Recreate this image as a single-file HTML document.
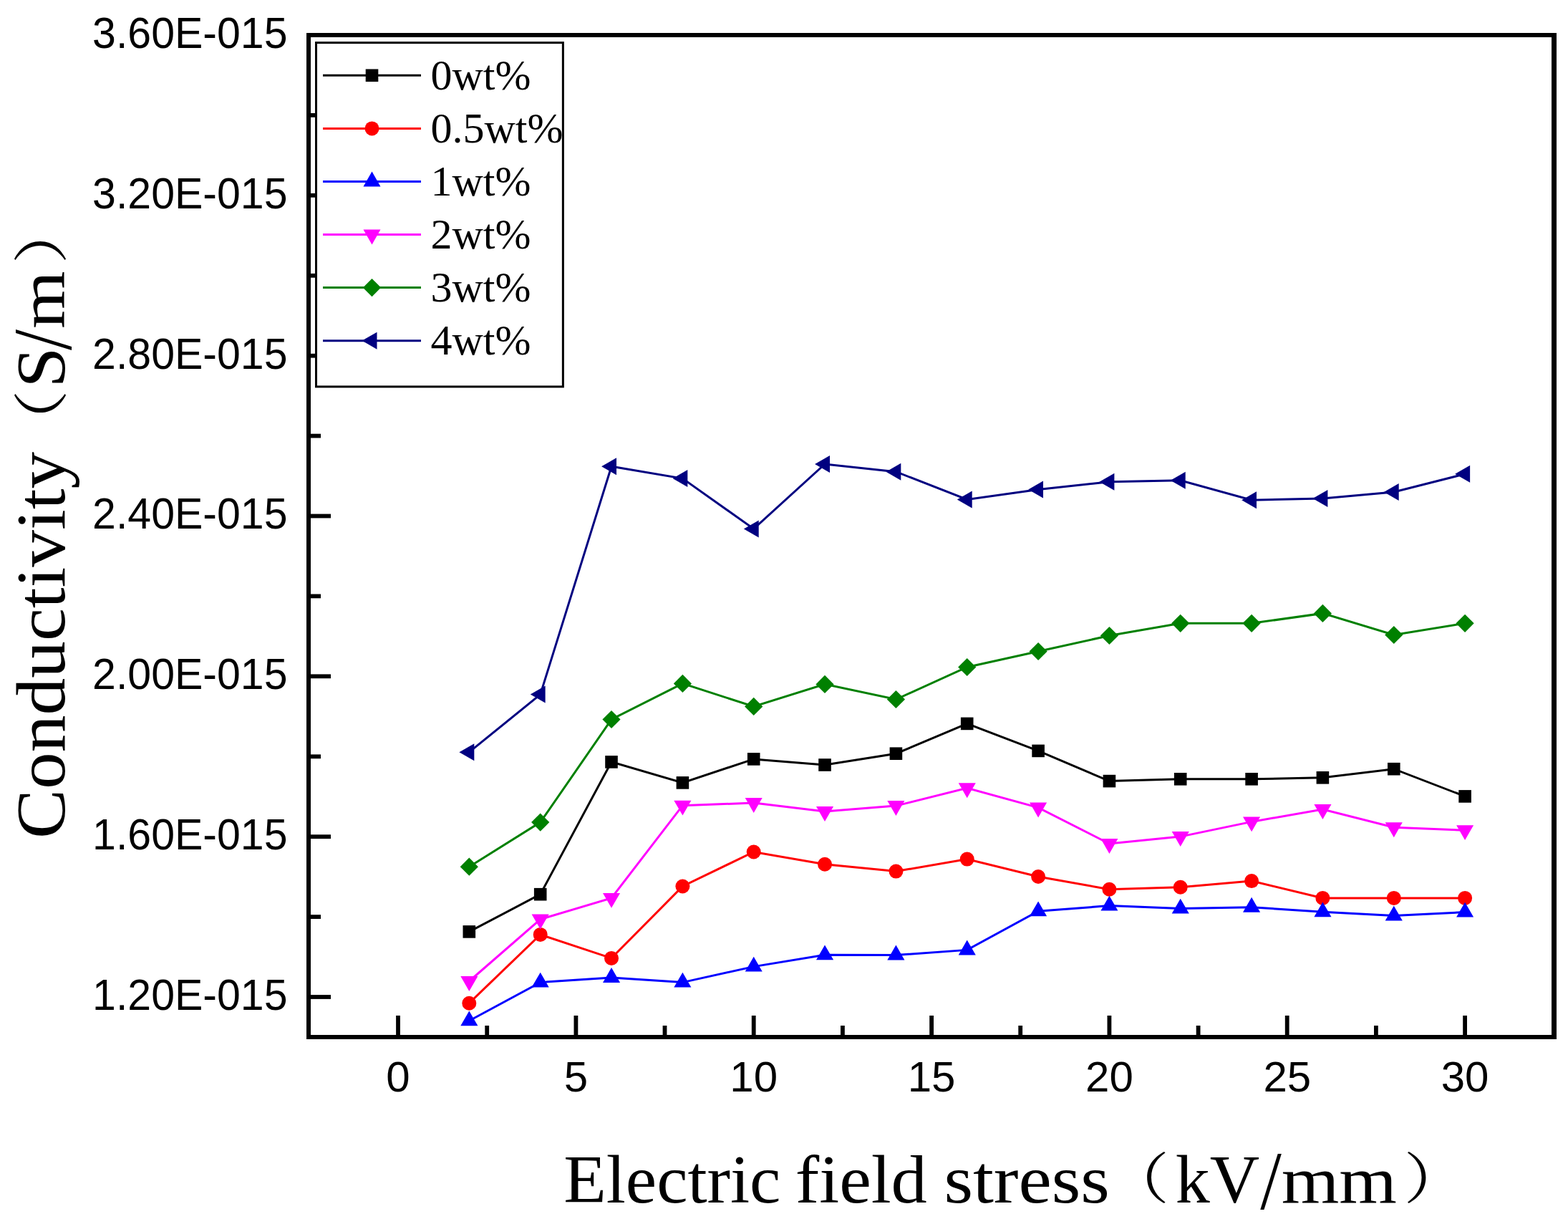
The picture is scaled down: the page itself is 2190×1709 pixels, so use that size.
<!DOCTYPE html>
<html><head><meta charset="utf-8"><title>Conductivity vs Electric field stress</title>
<style>html,body{margin:0;padding:0;background:#fff;}svg{display:block;}</style></head>
<body><svg width="2190" height="1709" viewBox="0 0 2190 1709"><g fill="#000">
<rect x="428" y="46" width="1746" height="6"/>
<rect x="428" y="1445" width="1746" height="6"/>
<rect x="428" y="46" width="6" height="1405"/>
<rect x="2167" y="46" width="7" height="1405"/>
<rect x="432" y="1389.1" width="30" height="5.8"/>
<rect x="432" y="1277.2" width="16" height="5.8"/>
<rect x="432" y="1165.3" width="30" height="5.8"/>
<rect x="432" y="1053.4" width="16" height="5.8"/>
<rect x="432" y="941.4" width="30" height="5.8"/>
<rect x="432" y="829.5" width="16" height="5.8"/>
<rect x="432" y="717.6" width="30" height="5.8"/>
<rect x="432" y="605.7" width="16" height="5.8"/>
<rect x="432" y="493.8" width="30" height="5.8"/>
<rect x="432" y="381.9" width="16" height="5.8"/>
<rect x="432" y="269.9" width="30" height="5.8"/>
<rect x="432" y="158.0" width="16" height="5.8"/>
<rect x="553.1" y="1418" width="5.8" height="29"/>
<rect x="677.3" y="1432" width="5.8" height="15"/>
<rect x="801.5" y="1418" width="5.8" height="29"/>
<rect x="925.6" y="1432" width="5.8" height="15"/>
<rect x="1049.8" y="1418" width="5.8" height="29"/>
<rect x="1174.0" y="1432" width="5.8" height="15"/>
<rect x="1298.2" y="1418" width="5.8" height="29"/>
<rect x="1422.3" y="1432" width="5.8" height="15"/>
<rect x="1546.5" y="1418" width="5.8" height="29"/>
<rect x="1670.7" y="1432" width="5.8" height="15"/>
<rect x="1794.8" y="1418" width="5.8" height="29"/>
<rect x="1919.0" y="1432" width="5.8" height="15"/>
<rect x="2043.2" y="1418" width="5.8" height="29"/>
</g>
<g font-family="'Liberation Sans', Arial, sans-serif" font-size="61" text-anchor="end" fill="#000">
<text transform="translate(401.5,1409.8) scale(0.968,1)">1.20E-015</text>
<text transform="translate(401.5,1186.0) scale(0.968,1)">1.60E-015</text>
<text transform="translate(401.5,962.1) scale(0.968,1)">2.00E-015</text>
<text transform="translate(401.5,738.3) scale(0.968,1)">2.40E-015</text>
<text transform="translate(401.5,514.5) scale(0.968,1)">2.80E-015</text>
<text transform="translate(401.5,290.6) scale(0.968,1)">3.20E-015</text>
<text transform="translate(401.5,66.8) scale(0.968,1)">3.60E-015</text>
</g>
<g font-family="'Liberation Sans', Arial, sans-serif" font-size="60" text-anchor="middle" fill="#000">
<text x="556.0" y="1524">0</text>
<text x="804.4" y="1524">5</text>
<text x="1052.7" y="1524">10</text>
<text x="1301.1" y="1524">15</text>
<text x="1549.4" y="1524">20</text>
<text x="1797.8" y="1524">25</text>
<text x="2046.1" y="1524">30</text>
</g>
<polyline points="655.3,1300.9 754.7,1248.7 854.0,1063.9 953.4,1092.9 1052.7,1059.9 1152.0,1068.0 1251.4,1052.2 1350.7,1010.4 1450.1,1048.4 1549.4,1090.6 1648.7,1087.8 1748.1,1087.8 1847.4,1085.8 1946.8,1073.7 2046.1,1111.9" fill="none" stroke="#000000" stroke-width="3" stroke-linejoin="miter"/>
<polyline points="655.3,1400.7 754.7,1304.9 854.0,1337.9 953.4,1237.5 1052.7,1189.5 1152.0,1206.7 1251.4,1216.6 1350.7,1199.6 1450.1,1224.0 1549.4,1241.7 1648.7,1238.8 1748.1,1230.1 1847.4,1253.9 1946.8,1253.9 2046.1,1253.9" fill="none" stroke="#FF0000" stroke-width="3" stroke-linejoin="miter"/>
<polyline points="655.3,1425.3 754.7,1371.6 854.0,1364.9 953.4,1371.6 1052.7,1349.6 1152.0,1333.3 1251.4,1333.5 1350.7,1326.4 1450.1,1272.3 1549.4,1264.6 1648.7,1268.6 1748.1,1266.7 1847.4,1273.3 1946.8,1278.6 2046.1,1273.6" fill="none" stroke="#0000FF" stroke-width="3" stroke-linejoin="miter"/>
<polyline points="655.3,1370.0 754.7,1283.6 854.0,1253.9 953.4,1124.7 1052.7,1121.1 1152.0,1133.0 1251.4,1125.1 1350.7,1100.3 1450.1,1127.6 1549.4,1178.0 1648.7,1168.1 1748.1,1147.4 1847.4,1130.0 1946.8,1155.3 2046.1,1159.2" fill="none" stroke="#FF00FF" stroke-width="3" stroke-linejoin="miter"/>
<polyline points="655.3,1210.2 754.7,1148.1 854.0,1004.5 953.4,954.4 1052.7,986.4 1152.0,955.4 1251.4,976.5 1350.7,931.5 1450.1,909.5 1549.4,887.5 1648.7,870.3 1748.1,870.3 1847.4,856.4 1946.8,886.5 2046.1,870.3" fill="none" stroke="#008000" stroke-width="3" stroke-linejoin="miter"/>
<polyline points="655.3,1050.2 754.7,969.6 854.0,651.3 953.4,668.1 1052.7,738.4 1152.0,648.0 1251.4,658.7 1350.7,697.5 1450.1,683.5 1549.4,672.8 1648.7,670.8 1748.1,698.2 1847.4,696.1 1946.8,686.9 2046.1,661.8" fill="none" stroke="#000080" stroke-width="3" stroke-linejoin="miter"/>
<rect x="646.5" y="1292.1" width="17.6" height="17.6" fill="#000000"/>
<rect x="745.9" y="1239.9" width="17.6" height="17.6" fill="#000000"/>
<rect x="845.2" y="1055.1" width="17.6" height="17.6" fill="#000000"/>
<rect x="944.6" y="1084.1" width="17.6" height="17.6" fill="#000000"/>
<rect x="1043.9" y="1051.1" width="17.6" height="17.6" fill="#000000"/>
<rect x="1143.2" y="1059.2" width="17.6" height="17.6" fill="#000000"/>
<rect x="1242.6" y="1043.4" width="17.6" height="17.6" fill="#000000"/>
<rect x="1341.9" y="1001.6" width="17.6" height="17.6" fill="#000000"/>
<rect x="1441.3" y="1039.6" width="17.6" height="17.6" fill="#000000"/>
<rect x="1540.6" y="1081.8" width="17.6" height="17.6" fill="#000000"/>
<rect x="1639.9" y="1079.0" width="17.6" height="17.6" fill="#000000"/>
<rect x="1739.3" y="1079.0" width="17.6" height="17.6" fill="#000000"/>
<rect x="1838.6" y="1077.0" width="17.6" height="17.6" fill="#000000"/>
<rect x="1938.0" y="1064.9" width="17.6" height="17.6" fill="#000000"/>
<rect x="2037.3" y="1103.1" width="17.6" height="17.6" fill="#000000"/>
<circle cx="655.3" cy="1400.7" r="10.0" fill="#FF0000"/>
<circle cx="754.7" cy="1304.9" r="10.0" fill="#FF0000"/>
<circle cx="854.0" cy="1337.9" r="10.0" fill="#FF0000"/>
<circle cx="953.4" cy="1237.5" r="10.0" fill="#FF0000"/>
<circle cx="1052.7" cy="1189.5" r="10.0" fill="#FF0000"/>
<circle cx="1152.0" cy="1206.7" r="10.0" fill="#FF0000"/>
<circle cx="1251.4" cy="1216.6" r="10.0" fill="#FF0000"/>
<circle cx="1350.7" cy="1199.6" r="10.0" fill="#FF0000"/>
<circle cx="1450.1" cy="1224.0" r="10.0" fill="#FF0000"/>
<circle cx="1549.4" cy="1241.7" r="10.0" fill="#FF0000"/>
<circle cx="1648.7" cy="1238.8" r="10.0" fill="#FF0000"/>
<circle cx="1748.1" cy="1230.1" r="10.0" fill="#FF0000"/>
<circle cx="1847.4" cy="1253.9" r="10.0" fill="#FF0000"/>
<circle cx="1946.8" cy="1253.9" r="10.0" fill="#FF0000"/>
<circle cx="2046.1" cy="1253.9" r="10.0" fill="#FF0000"/>
<polygon points="655.3,1411.4 667.4,1432.2 643.3,1432.2" fill="#0000FF"/>
<polygon points="754.7,1357.7 766.7,1378.5 742.6,1378.5" fill="#0000FF"/>
<polygon points="854.0,1351.0 866.1,1371.9 842.0,1371.9" fill="#0000FF"/>
<polygon points="953.4,1357.7 965.4,1378.5 941.3,1378.5" fill="#0000FF"/>
<polygon points="1052.7,1335.7 1064.7,1356.5 1040.7,1356.5" fill="#0000FF"/>
<polygon points="1152.0,1319.4 1164.1,1340.2 1140.0,1340.2" fill="#0000FF"/>
<polygon points="1251.4,1319.6 1263.4,1340.5 1239.3,1340.5" fill="#0000FF"/>
<polygon points="1350.7,1312.5 1362.8,1333.4 1338.7,1333.4" fill="#0000FF"/>
<polygon points="1450.1,1258.4 1462.1,1279.2 1438.0,1279.2" fill="#0000FF"/>
<polygon points="1549.4,1250.7 1561.4,1271.5 1537.4,1271.5" fill="#0000FF"/>
<polygon points="1648.7,1254.7 1660.8,1275.5 1636.7,1275.5" fill="#0000FF"/>
<polygon points="1748.1,1252.8 1760.1,1273.7 1736.0,1273.7" fill="#0000FF"/>
<polygon points="1847.4,1259.4 1859.5,1280.2 1835.4,1280.2" fill="#0000FF"/>
<polygon points="1946.8,1264.7 1958.8,1285.5 1934.7,1285.5" fill="#0000FF"/>
<polygon points="2046.1,1259.7 2058.1,1280.5 2034.1,1280.5" fill="#0000FF"/>
<polygon points="655.3,1383.9 667.4,1363.0 643.3,1363.0" fill="#FF00FF"/>
<polygon points="754.7,1297.5 766.7,1276.6 742.6,1276.6" fill="#FF00FF"/>
<polygon points="854.0,1267.8 866.1,1247.0 842.0,1247.0" fill="#FF00FF"/>
<polygon points="953.4,1138.6 965.4,1117.8 941.3,1117.8" fill="#FF00FF"/>
<polygon points="1052.7,1135.0 1064.7,1114.1 1040.7,1114.1" fill="#FF00FF"/>
<polygon points="1152.0,1146.9 1164.1,1126.0 1140.0,1126.0" fill="#FF00FF"/>
<polygon points="1251.4,1139.0 1263.4,1118.1 1239.3,1118.1" fill="#FF00FF"/>
<polygon points="1350.7,1114.2 1362.8,1093.3 1338.7,1093.3" fill="#FF00FF"/>
<polygon points="1450.1,1141.5 1462.1,1120.6 1438.0,1120.6" fill="#FF00FF"/>
<polygon points="1549.4,1191.9 1561.4,1171.0 1537.4,1171.0" fill="#FF00FF"/>
<polygon points="1648.7,1182.0 1660.8,1161.1 1636.7,1161.1" fill="#FF00FF"/>
<polygon points="1748.1,1161.3 1760.1,1140.5 1736.0,1140.5" fill="#FF00FF"/>
<polygon points="1847.4,1143.9 1859.5,1123.0 1835.4,1123.0" fill="#FF00FF"/>
<polygon points="1946.8,1169.2 1958.8,1148.3 1934.7,1148.3" fill="#FF00FF"/>
<polygon points="2046.1,1173.1 2058.1,1152.2 2034.1,1152.2" fill="#FF00FF"/>
<polygon points="655.3,1197.6 667.9,1210.2 655.3,1222.8 642.7,1210.2" fill="#008000"/>
<polygon points="754.7,1135.5 767.3,1148.1 754.7,1160.7 742.1,1148.1" fill="#008000"/>
<polygon points="854.0,991.9 866.6,1004.5 854.0,1017.1 841.4,1004.5" fill="#008000"/>
<polygon points="953.4,941.8 966.0,954.4 953.4,967.0 940.8,954.4" fill="#008000"/>
<polygon points="1052.7,973.8 1065.3,986.4 1052.7,999.0 1040.1,986.4" fill="#008000"/>
<polygon points="1152.0,942.8 1164.6,955.4 1152.0,968.0 1139.4,955.4" fill="#008000"/>
<polygon points="1251.4,963.9 1264.0,976.5 1251.4,989.1 1238.8,976.5" fill="#008000"/>
<polygon points="1350.7,918.9 1363.3,931.5 1350.7,944.1 1338.1,931.5" fill="#008000"/>
<polygon points="1450.1,896.9 1462.7,909.5 1450.1,922.1 1437.5,909.5" fill="#008000"/>
<polygon points="1549.4,874.9 1562.0,887.5 1549.4,900.1 1536.8,887.5" fill="#008000"/>
<polygon points="1648.7,857.7 1661.3,870.3 1648.7,882.9 1636.1,870.3" fill="#008000"/>
<polygon points="1748.1,857.7 1760.7,870.3 1748.1,882.9 1735.5,870.3" fill="#008000"/>
<polygon points="1847.4,843.8 1860.0,856.4 1847.4,869.0 1834.8,856.4" fill="#008000"/>
<polygon points="1946.8,873.9 1959.4,886.5 1946.8,899.1 1934.2,886.5" fill="#008000"/>
<polygon points="2046.1,857.7 2058.7,870.3 2046.1,882.9 2033.5,870.3" fill="#008000"/>
<polygon points="641.4,1050.2 662.3,1038.2 662.3,1062.2" fill="#000080"/>
<polygon points="740.8,969.6 761.6,957.6 761.6,981.6" fill="#000080"/>
<polygon points="840.1,651.3 861.0,639.3 861.0,663.3" fill="#000080"/>
<polygon points="939.5,668.1 960.3,656.1 960.3,680.1" fill="#000080"/>
<polygon points="1038.8,738.4 1059.7,726.4 1059.7,750.4" fill="#000080"/>
<polygon points="1138.1,648.0 1159.0,636.0 1159.0,660.0" fill="#000080"/>
<polygon points="1237.5,658.7 1258.3,646.7 1258.3,670.7" fill="#000080"/>
<polygon points="1336.8,697.5 1357.7,685.5 1357.7,709.5" fill="#000080"/>
<polygon points="1436.2,683.5 1457.0,671.5 1457.0,695.5" fill="#000080"/>
<polygon points="1535.5,672.8 1556.4,660.8 1556.4,684.8" fill="#000080"/>
<polygon points="1634.8,670.8 1655.7,658.8 1655.7,682.8" fill="#000080"/>
<polygon points="1734.2,698.2 1755.0,686.2 1755.0,710.2" fill="#000080"/>
<polygon points="1833.5,696.1 1854.4,684.1 1854.4,708.1" fill="#000080"/>
<polygon points="1932.9,686.9 1953.7,674.9 1953.7,698.9" fill="#000080"/>
<polygon points="2032.2,661.8 2053.1,649.8 2053.1,673.8" fill="#000080"/>
<rect x="441.5" y="59.6" width="344.85" height="480.3" fill="#fff" stroke="#000" stroke-width="3"/>
<line x1="451" y1="105.3" x2="588" y2="105.3" stroke="#000000" stroke-width="3"/>
<rect x="510.7" y="96.5" width="17.6" height="17.6" fill="#000000"/>
<text x="601.5" y="124.8" font-family="'Liberation Serif', 'Times New Roman', serif" font-size="60" fill="#000">0wt%</text>
<line x1="451" y1="179.4" x2="588" y2="179.4" stroke="#FF0000" stroke-width="3"/>
<circle cx="519.5" cy="179.4" r="10.0" fill="#FF0000"/>
<text x="601.5" y="198.9" font-family="'Liberation Serif', 'Times New Roman', serif" font-size="60" fill="#000">0.5wt%</text>
<line x1="451" y1="253.5" x2="588" y2="253.5" stroke="#0000FF" stroke-width="3"/>
<polygon points="519.5,239.6 531.5,260.4 507.5,260.4" fill="#0000FF"/>
<text x="601.5" y="273.0" font-family="'Liberation Serif', 'Times New Roman', serif" font-size="60" fill="#000">1wt%</text>
<line x1="451" y1="327.5" x2="588" y2="327.5" stroke="#FF00FF" stroke-width="3"/>
<polygon points="519.5,341.4 531.5,320.6 507.5,320.6" fill="#FF00FF"/>
<text x="601.5" y="347.0" font-family="'Liberation Serif', 'Times New Roman', serif" font-size="60" fill="#000">2wt%</text>
<line x1="451" y1="401.6" x2="588" y2="401.6" stroke="#008000" stroke-width="3"/>
<polygon points="519.5,389.0 532.1,401.6 519.5,414.2 506.9,401.6" fill="#008000"/>
<text x="601.5" y="421.1" font-family="'Liberation Serif', 'Times New Roman', serif" font-size="60" fill="#000">3wt%</text>
<line x1="451" y1="475.7" x2="588" y2="475.7" stroke="#000080" stroke-width="3"/>
<polygon points="505.6,475.7 526.5,463.7 526.5,487.7" fill="#000080"/>
<text x="601.5" y="495.2" font-family="'Liberation Serif', 'Times New Roman', serif" font-size="60" fill="#000">4wt%</text>
<g fill="#000">
<text font-family="'Liberation Serif', 'Times New Roman', serif" font-size="96" transform="translate(787.2,1679) scale(1.016,1)">Electric</text>
<text font-family="'Liberation Serif', 'Times New Roman', serif" font-size="96" transform="translate(1110.8,1679) scale(1.046,1)">field</text>
<text font-family="'Liberation Serif', 'Times New Roman', serif" font-size="96" transform="translate(1318.4,1679) scale(1.085,1)">stress</text>
<text font-family="'Liberation Serif', 'Noto Serif CJK SC', serif" font-size="77" transform="translate(1544.5,1674.4) scale(1.15,1)">（</text>
<text font-family="'Liberation Serif', 'Times New Roman', serif" font-size="96" transform="translate(1641.8,1679)">kV</text>
<text font-family="'Liberation Serif', 'Times New Roman', serif" font-size="116.8" transform="translate(1760.2,1688.4) scale(0.91,1)">/</text>
<text font-family="'Liberation Serif', 'Times New Roman', serif" font-size="92.2" transform="translate(1789.7,1678.8) scale(1.125,1)">mm</text>
<text font-family="'Liberation Serif', 'Noto Serif CJK SC', serif" font-size="77" transform="translate(1960.5,1674.4) scale(1.15,1)">）</text>
<text font-family="'Liberation Serif', 'Times New Roman', serif" font-size="97" transform="translate(90,1171.1) rotate(-90) scale(1.067,1)">Conductivity</text>
<text font-family="'Liberation Serif', 'Noto Serif CJK SC', serif" font-size="77" transform="translate(86.1,635.3) rotate(-90) scale(1.18,1)">（</text>
<text font-family="'Liberation Serif', 'Times New Roman', serif" font-size="97" transform="translate(90,541.4) rotate(-90) scale(1.054,1)">S</text>
<text font-family="'Liberation Serif', 'Times New Roman', serif" font-size="117" transform="translate(99.2,488.9) rotate(-90) scale(0.894,1)">/</text>
<text font-family="'Liberation Serif', 'Times New Roman', serif" font-size="90.3" transform="translate(89.7,459.1) rotate(-90) scale(1.149,1)">m</text>
<text font-family="'Liberation Serif', 'Noto Serif CJK SC', serif" font-size="77" transform="translate(86.1,368.8) rotate(-90) scale(1.18,1)">）</text>
</g></svg></body></html>
